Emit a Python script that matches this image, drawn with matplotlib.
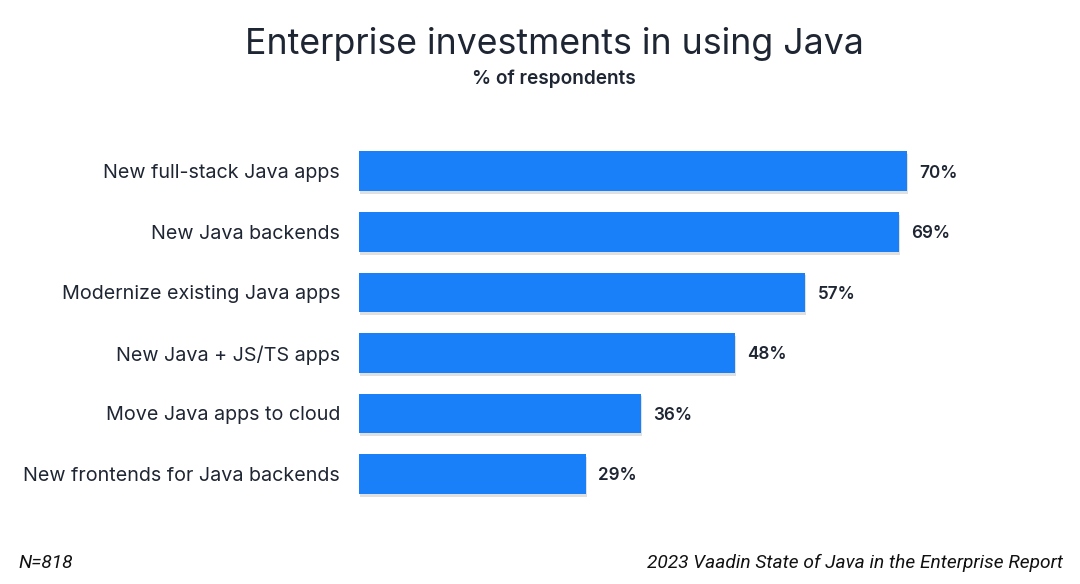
import matplotlib.pyplot as plt
import matplotlib.patheffects as pe

categories = ['New full-stack Java apps', 'New Java backends', 'Modernize existing Java apps',
              'New Java + JS/TS apps', 'Move Java apps to cloud', 'New frontends for Java backends']
values = [70, 69, 57, 48, 36, 29]

title = 'Enterprise investments in using Java'
subtitle = '% of respondents'
note_left = 'N=818'
note_right = '2023 Vaadin State of Java in the Enterprise Report'

bar_color = '#1a80fa'
text_color = '#1f2633'

plt.rcParams['font.family'] = ['Inter', 'DejaVu Sans']

fig = plt.figure(figsize=(10.8, 5.84), dpi=100)
ax = fig.add_axes([0.3324, 0.1366, 0.5796, 0.6216])

ypos = list(range(len(categories)))
bars = ax.barh(ypos, values, height=0.66, color=bar_color, zorder=3)
for b in bars:
    b.set_path_effects([pe.SimplePatchShadow(offset=(0.8, -2), shadow_rgbFace='#000000', alpha=0.12),
                        pe.Normal()])

for y, v in zip(ypos, values):
    ax.text(v + 1.6, y + 0.03, f'{v}%', va='center', ha='left', fontsize=12.3,
            fontweight='semibold', color=text_color)

ax.set_xlim(0, 80)
ax.set_ylim(len(categories) - 0.5, -0.5)
ax.set_yticks(ypos)
ax.set_yticklabels(categories, fontsize=14.2, color=text_color)
ax.tick_params(axis='y', length=0, pad=13.5)
ax.set_xticks([])
for s in ax.spines.values():
    s.set_visible(False)

fig.text(0.513, 0.925, title, ha='center', va='center', fontsize=25.7, color=text_color)
fig.text(0.513, 0.866, subtitle, ha='center', va='center', fontsize=13.7,
         fontweight='semibold', color=text_color)

fig.text(0.017, 0.036, note_left, ha='left', va='center', fontsize=13.8,
         family='Roboto', style='italic', color='#111111')
fig.text(0.984, 0.036, note_right, ha='right', va='center', fontsize=13.8,
         family='Roboto', style='italic', color='#111111')

fig.savefig('out.png', dpi=100, facecolor='white')
